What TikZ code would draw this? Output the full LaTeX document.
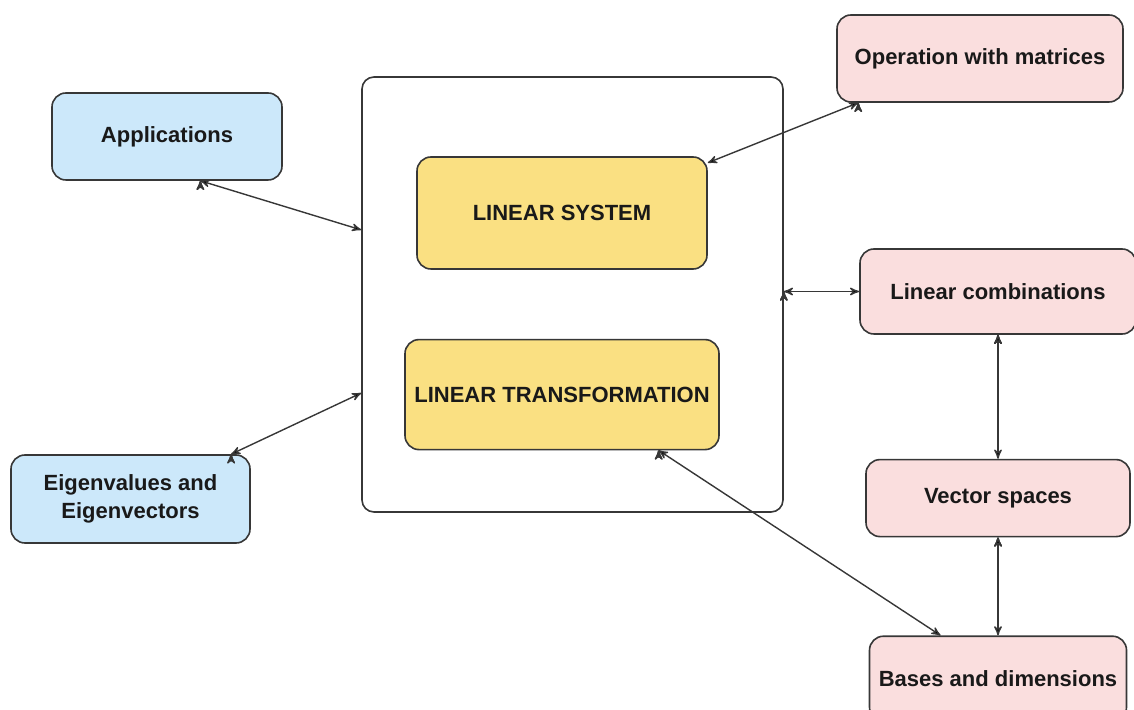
\documentclass[tikz,border=0pt]{standalone}
\usepackage{fontspec}
\setmainfont{Liberation Sans}
\usepackage{tikz}
\usetikzlibrary{arrows,positioning}

\definecolor{appblue}{RGB}{204,232,250}
\definecolor{toppink}{RGB}{250,222,222}
\definecolor{coreyellow}{RGB}{250,224,130}
\definecolor{edgegray}{RGB}{55,55,55}

\begin{document}
\begin{tikzpicture}[x=0.5pt, y=-0.5pt, >=stealth', auto,
    box/.style={draw=edgegray, line width=0.8pt, rounded corners=7pt, inner sep=0pt,
        align=center, font=\bfseries\fontsize{11}{14}\selectfont, text=black!90},
    blue box/.style={box, fill=appblue},
    pink box/.style={box, fill=toppink},
    core box/.style={box, fill=coreyellow},
    link/.style={<->, draw=edgegray, line width=0.7pt}]
    \useasboundingbox (0,0) rectangle (1134,710);

    % Nodes {big, lsys, ltrans, apps, eigen, opmat, lcomb, vspace, bases}
    \node [box, fill=white, rounded corners=6pt, minimum width=210.5pt, minimum height=217.5pt]
                                      (big)    at (572.5,294.5) {};
    \node [core box, minimum width=145pt, minimum height=56pt]
                                      (lsys)   at (562,213)     {LINEAR SYSTEM};
    \node [core box, minimum width=157pt, minimum height=55pt]
                                      (ltrans) [below=34.5pt of lsys] {LINEAR TRANSFORMATION};
    \node [blue box, minimum width=115pt, minimum height=43.5pt]
                                      (apps)   at (167,136.5)   {Applications};
    \node [blue box, minimum width=119.5pt, minimum height=44pt]
                                      (eigen)  at (130.5,499)   {Eigenvalues and\\Eigenvectors};
    \node [pink box, minimum width=143pt, minimum height=43.5pt]
                                      (opmat)  at (980,58.5)    {Operation with matrices};
    \node [pink box, minimum width=138pt, minimum height=42.5pt]
                                      (lcomb)  at (998,291.5)   {Linear combinations};
    \node [pink box, minimum width=132pt, minimum height=38.5pt]
                                      (vspace) [below=62pt of lcomb] {Vector spaces};
    \node [pink box, minimum width=128.5pt, minimum height=42.5pt]
                                      (bases)  [below=49pt of vspace] {Bases and dimensions};

    % Paths
    \path [link] (apps.-53)            edge (big.163);
    \path [link] (eigen.24)            edge (big.205);
    \path [link] (opmat.200)           edge (lsys.19.5);
    \path [link] (lcomb.west -| big.east) edge (lcomb.west);
    \path [link] (lcomb.south)         edge (vspace.north);
    \path [link] (vspace.south)        edge (bases.north);
    \path [link] (ltrans.-30.6)        edge (bases.143);

\end{tikzpicture}
\end{document}
